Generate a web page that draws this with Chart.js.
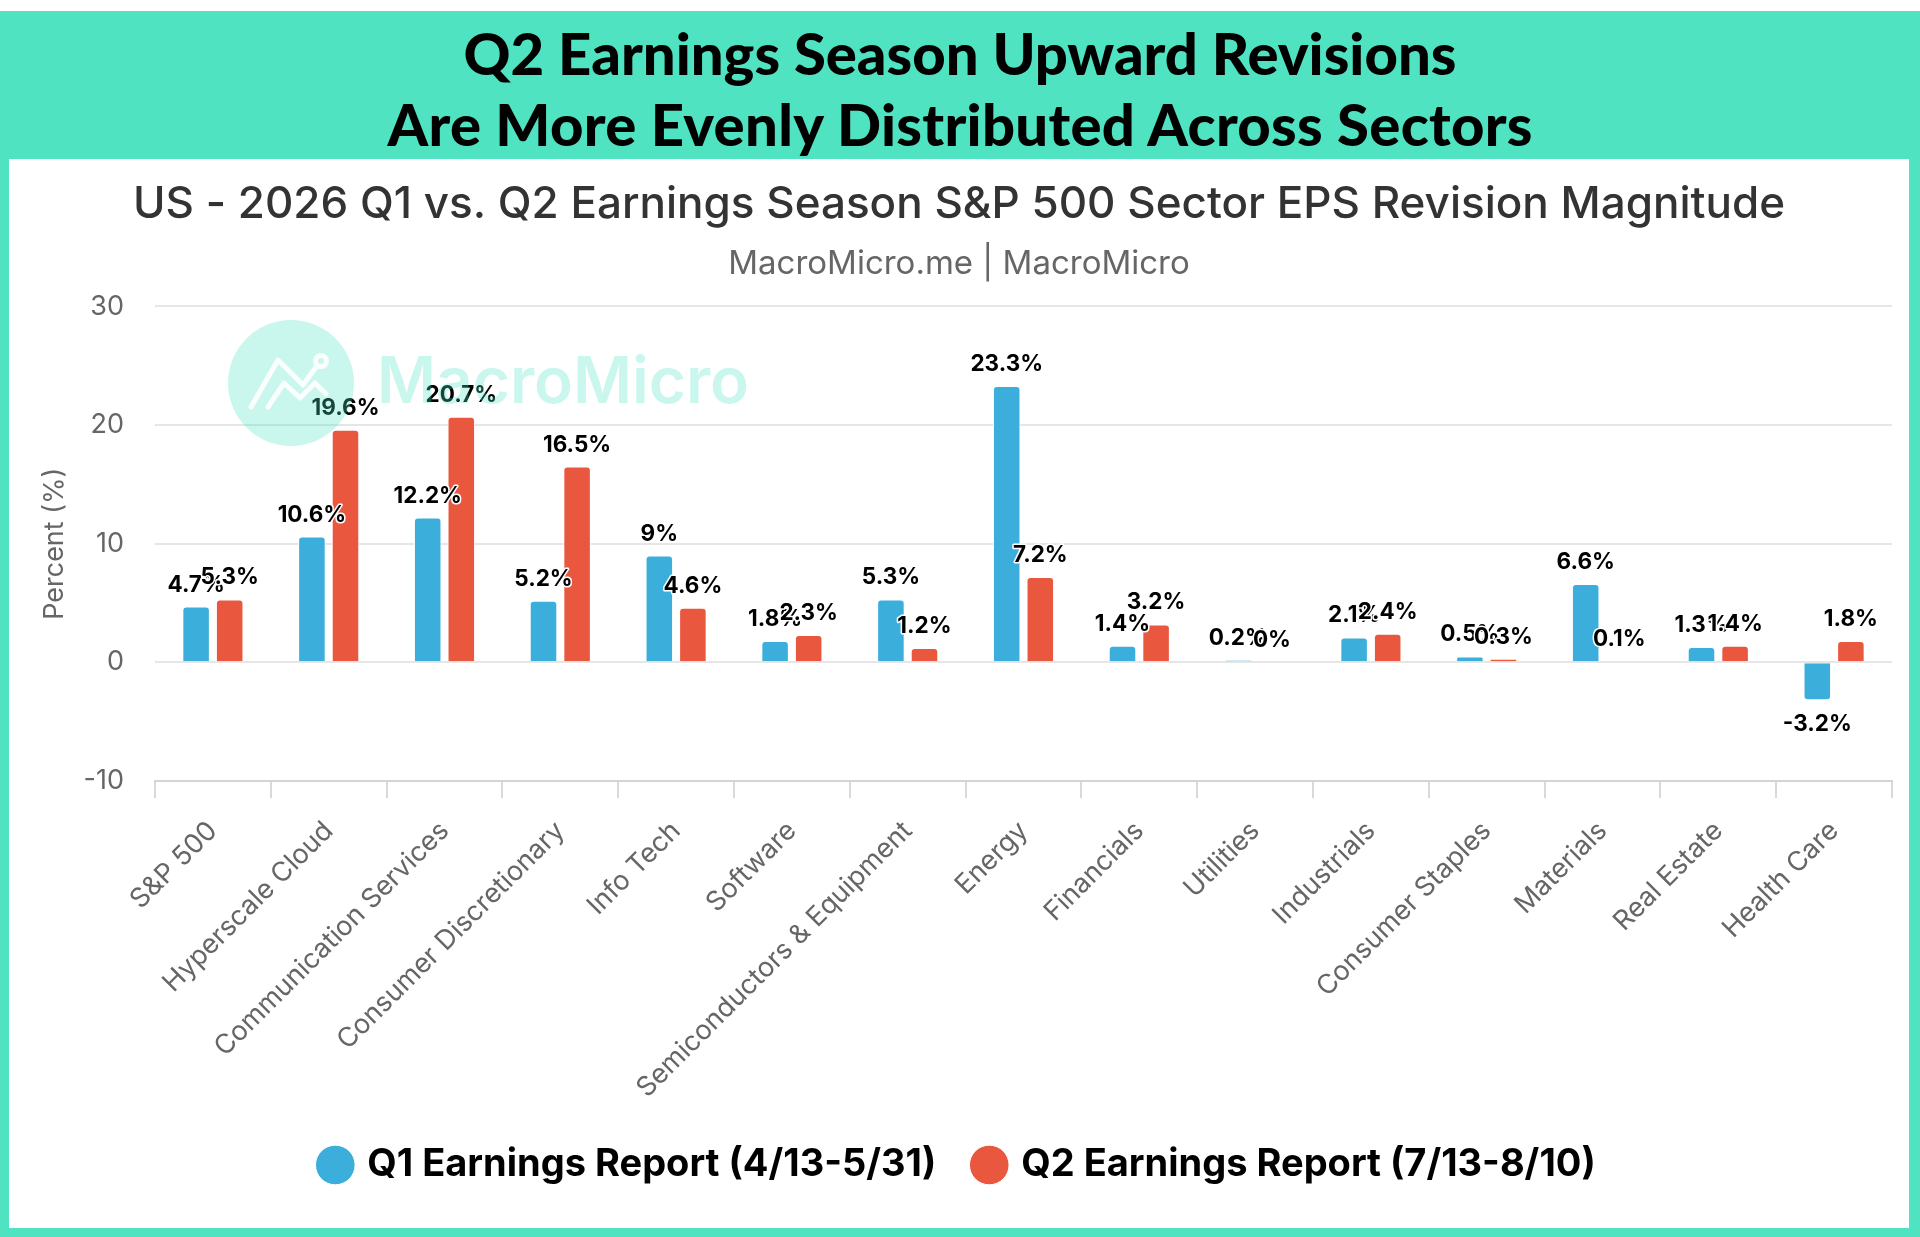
<!DOCTYPE html>
<html>
<head>
<meta charset="utf-8">
<script src="https://cdn.jsdelivr.net/npm/chart.js@4.4.1/dist/chart.umd.min.js"></script>
<style>
  html, body { margin: 0; padding: 0; background: #fff; }
  #page { position: relative; width: 1920px; height: 1237px; overflow: hidden; }
  #frame { position: absolute; left: 0; top: 11px; width: 1920px; height: 1226px; background: #50e3c2; }
  #panel { position: absolute; left: 9px; top: 159px; width: 1900px; height: 1069px; background: #fff; }
  .overlay { position: absolute; left: 0; top: 0; pointer-events: none; }
</style>
</head>
<body>
<div id="page">
  <div id="frame"></div>
  <svg class="overlay" width="1920" height="1237">
    <text x="960" y="75" text-anchor="middle" font-family="Lato" font-weight="900" font-size="58" fill="#000">Q2 Earnings Season Upward Revisions</text>
    <text x="960" y="146" text-anchor="middle" font-family="Lato" font-weight="900" font-size="58" fill="#000" textLength="1145">Are More Evenly Distributed Across Sectors</text>
  </svg>
  <div id="panel"><canvas id="chart" width="1900" height="1069"></canvas></div>
  <svg class="overlay" width="1920" height="1237">
    <g opacity="0.3" fill="#50e3c2">
      <circle cx="291" cy="383" r="63"/>
      <text x="377" y="403" font-family="Inter" font-weight="600" font-size="64">MacroMicro</text>
    </g>
    <g fill="none" stroke="#fff" stroke-width="5" stroke-linecap="round" stroke-linejoin="round" opacity="0.9">
      <polyline points="251,407 278,360 303,385 316,367"/>
      <polyline points="268,407 284,383 300,398 315,383 326,394"/>
      <circle cx="321" cy="361" r="5.5"/>
    </g>
  </svg>
</div>
<script>
const categories = [
  'S&P 500', 'Hyperscale Cloud', 'Communication Services', 'Consumer Discretionary',
  'Info Tech', 'Software', 'Semiconductors & Equipment', 'Energy', 'Financials',
  'Utilities', 'Industrials', 'Consumer Staples', 'Materials', 'Real Estate', 'Health Care'
];
const q1Values = [4.7, 10.6, 12.2, 5.2, 9, 1.8, 5.3, 23.3, 1.4, 0.2, 2.1, 0.5, 6.6, 1.3, -3.2];
const q2Values = [5.3, 19.6, 20.7, 16.5, 4.6, 2.3, 1.2, 7.2, 3.2, 0, 2.4, 0.3, 0.1, 1.4, 1.8];
const yTicks = [-10, 0, 10, 20, 30];

Chart.defaults.font.family = 'Inter';

// draws "x%" above each bar (below for negatives), Q2 drawn last so it sits on top
const valueLabels = {
  id: 'valueLabels',
  afterDatasetsDraw(chart) {
    const ctx = chart.ctx;
    ctx.save();
    ctx.font = '700 22.5px Inter';
    ctx.textAlign = 'center';
    ctx.textBaseline = 'alphabetic';
    ctx.lineJoin = 'round';
    chart.data.datasets.forEach((ds, i) => {
      chart.getDatasetMeta(i).data.forEach((bar, j) => {
        const v = ds.data[j];
        const text = v + '%';
        const y = v < 0 ? bar.y + 31 : bar.y - 15;
        ctx.strokeStyle = '#fff';
        ctx.lineWidth = 3;
        ctx.strokeText(text, bar.x, y);
        ctx.fillStyle = '#000';
        ctx.fillText(text, bar.x, y);
      });
    });
    ctx.restore();
  }
};

new Chart(document.getElementById('chart'), {
  type: 'bar',
  data: {
    labels: categories,
    datasets: [
      {
        label: 'Q1 Earnings Report (4/13-5/31)',
        data: q1Values,
        backgroundColor: '#3caedb',
        borderColor: '#fff',
        borderWidth: 1,
        borderRadius: 4,
        categoryPercentage: 0.58,
        barPercentage: 0.82
      },
      {
        label: 'Q2 Earnings Report (7/13-8/10)',
        data: q2Values,
        backgroundColor: '#e9573f',
        borderColor: '#fff',
        borderWidth: 1,
        borderRadius: 4,
        categoryPercentage: 0.58,
        barPercentage: 0.82
      }
    ]
  },
  options: {
    responsive: false,
    animation: false,
    layout: { padding: { left: 17, right: 17, top: 0, bottom: 34 } },
    plugins: {
      title: {
        display: true,
        text: 'US - 2026 Q1 vs. Q2 Earnings Season S&P 500 Sector EPS Revision Magnitude',
        color: '#333',
        font: { size: 44, weight: '500', lineHeight: 1.2 },
        padding: { top: 19, bottom: 0 }
      },
      subtitle: {
        display: true,
        text: 'MacroMicro.me | MacroMicro',
        color: '#666',
        font: { size: 33, weight: '400', lineHeight: 1.2 },
        padding: { top: 13, bottom: 23 }
      },
      legend: {
        position: 'bottom',
        labels: {
          usePointStyle: true,
          pointStyle: 'circle',
          boxWidth: 26,
          boxHeight: 28,
          padding: 40,
          color: '#000',
          font: { size: 38, weight: '700' }
        }
      },
      tooltip: { enabled: false }
    },
    scales: {
      x: {
        ticks: {
          color: '#666',
          font: { size: 27 },
          minRotation: 45,
          maxRotation: 45,
          autoSkip: false,
          padding: 17
        },
        grid: {
          offset: true,
          drawOnChartArea: false,
          tickLength: 17,
          color: '#d9d9d9',
          lineWidth: 2
        },
        border: { display: true, color: '#d4d4d4', width: 2 },
        afterFit(scale) { scale.height = 325; }
      },
      y: {
        min: yTicks[0],
        max: yTicks[yTicks.length - 1],
        afterBuildTicks(scale) { scale.ticks = yTicks.map(v => ({ value: v })); },
        ticks: { color: '#666', font: { size: 27 }, padding: 31 },
        grid: { color: '#e6e6e6', lineWidth: 2, drawTicks: false },
        border: { display: false },
        title: {
          display: true,
          text: 'Percent (%)',
          color: '#666',
          font: { size: 27, lineHeight: 1.2 },
          padding: { top: 13, bottom: 0 }
        },
        afterFit(scale) { scale.width = 129; }
      }
    }
  },
  plugins: [valueLabels]
});
</script>
</body>
</html>
